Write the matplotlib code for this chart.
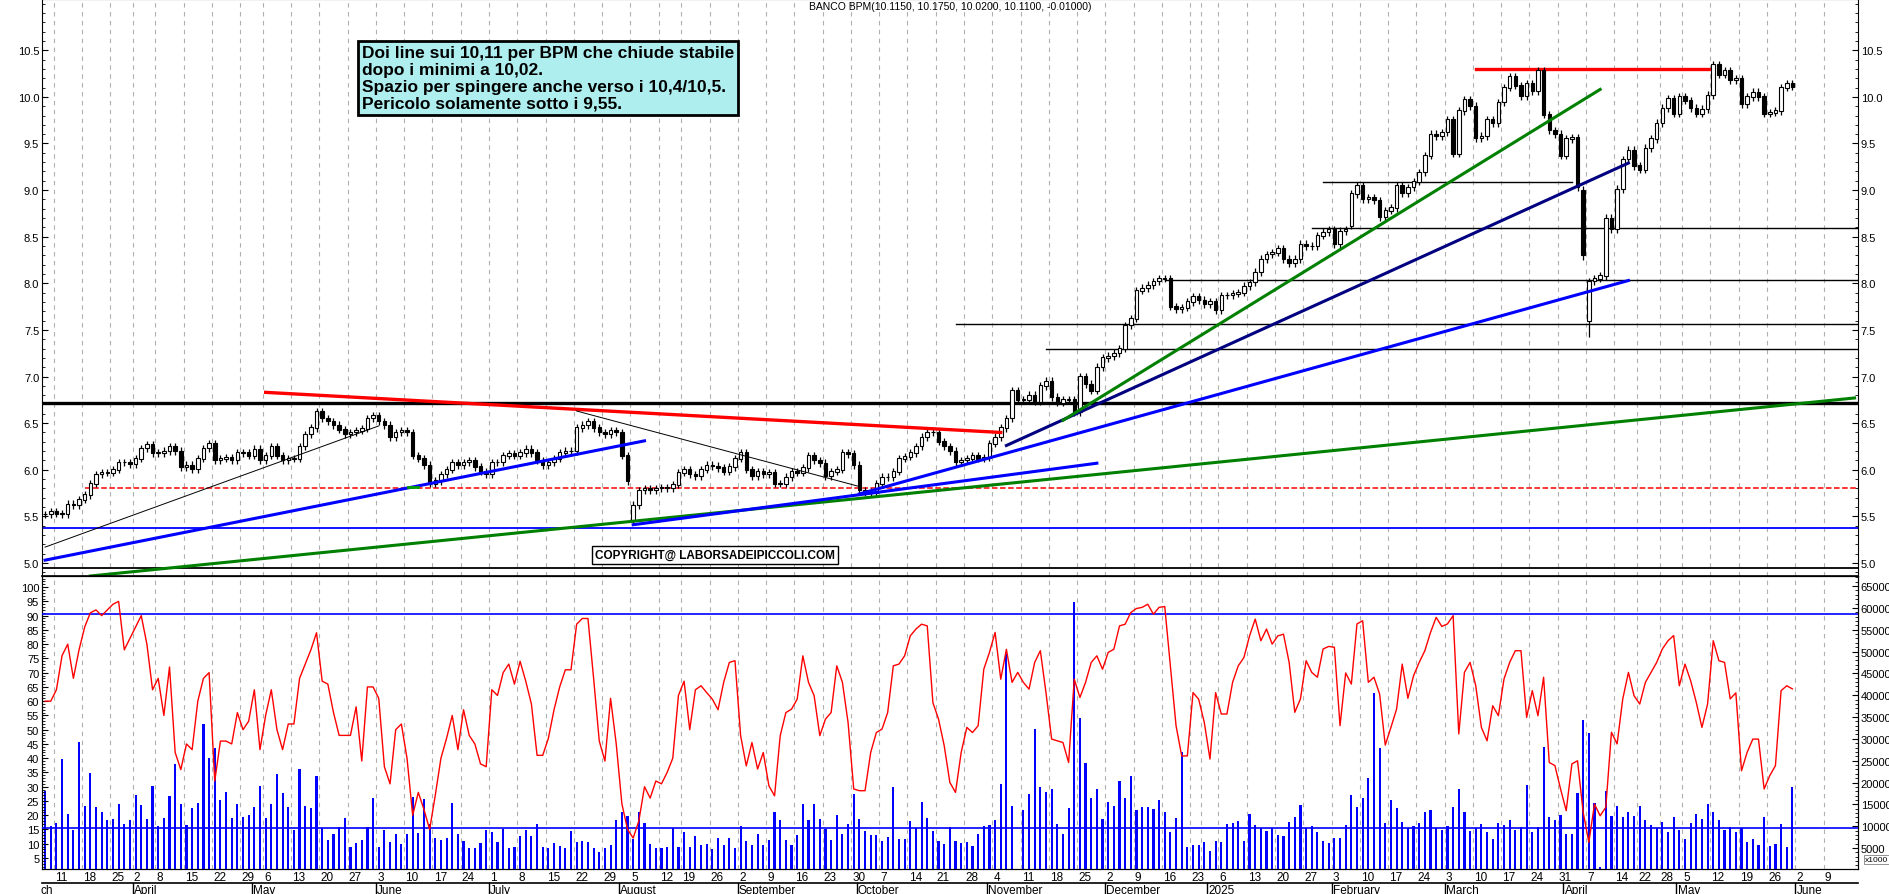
import matplotlib
matplotlib.use("Agg")
import matplotlib.pyplot as plt
from matplotlib.ticker import MultipleLocator, FixedLocator
import matplotlib.transforms as mtransforms
import numpy as np
import pandas as pd

plt.rcParams["font.family"] = "Liberation Sans"

TITLE = "BANCO BPM(10.1150, 10.1750, 10.0200, 10.1100, -0.01000)"
NOTE = ("Doi line sui 10,11 per BPM che chiude stabile\n"
        "dopo i minimi a 10,02.\n"
        "Spazio per spingere anche verso i 10,4/10,5.\n"
        "Pericolo solamente sotto i 9,55.")
COPYRIGHT = "COPYRIGHT@ LABORSADEIPICCOLI.COM"

HOLIDAYS = ["2024-03-29", "2024-04-01", "2024-05-01", "2024-08-15", "2024-12-24",
            "2024-12-25", "2024-12-26", "2024-12-31", "2025-01-01", "2025-04-18",
            "2025-04-21", "2025-05-01"]

# daily closes, 2024-03-07 .. 2025-05-30
CLOSE = [
    5.52, 5.55, 5.53, 5.52, 5.63, 5.62, 5.68, 5.73, 5.85, 5.95,
    5.97, 5.97, 6.00, 6.08, 6.08, 6.06, 6.12, 6.23, 6.27, 6.18,
    6.18, 6.20, 6.25, 6.20, 6.03, 6.05, 6.01, 6.12, 6.23, 6.28,
    6.10, 6.12, 6.13, 6.10, 6.18, 6.18, 6.15, 6.22, 6.10, 6.15,
    6.25, 6.15, 6.10, 6.12, 6.12, 6.25, 6.38, 6.45, 6.62, 6.55,
    6.52, 6.48, 6.43, 6.38, 6.40, 6.42, 6.44, 6.55, 6.58, 6.52,
    6.48, 6.35, 6.40, 6.42, 6.40, 6.15, 6.12, 6.05, 5.85, 5.88,
    5.95, 6.00, 6.08, 6.05, 6.08, 6.10, 6.03, 5.98, 5.95, 6.08,
    6.08, 6.15, 6.17, 6.15, 6.18, 6.22, 6.18, 6.10, 6.05, 6.08,
    6.12, 6.18, 6.20, 6.20, 6.45, 6.48, 6.52, 6.45, 6.40, 6.38,
    6.42, 6.40, 6.15, 5.88, 5.62,
    5.78, 5.80, 5.78, 5.80, 5.81, 5.80, 5.84, 5.97, 6.00, 5.95,
    5.93, 6.00, 6.05, 6.04, 6.02, 5.98, 6.03, 6.12, 6.18, 6.00,
    5.93, 5.98, 5.95, 5.97, 5.85, 5.85, 5.92, 5.98, 5.97, 6.02,
    6.15, 6.10, 6.07, 5.93, 5.98, 6.00, 6.18, 6.17, 6.05, 5.78,
    5.76, 5.75, 5.85, 5.92, 5.92, 5.98, 6.12, 6.14, 6.18, 6.25,
    6.35, 6.40, 6.40, 6.30, 6.25, 6.20, 6.08, 6.10, 6.12, 6.15,
    6.12, 6.13, 6.28, 6.35, 6.45, 6.55, 6.85, 6.75, 6.75, 6.80,
    6.73, 6.90, 6.95, 6.78, 6.72, 6.75, 6.75, 6.62, 7.00, 6.92,
    6.85, 7.10, 7.20, 7.22, 7.25, 7.30, 7.55, 7.62, 7.92, 7.95,
    7.98, 8.02, 8.05, 8.05,
    7.75, 7.72, 7.74, 7.80, 7.86, 7.82, 7.78,
    7.80, 7.71, 7.87, 7.87, 7.89, 7.90, 7.97, 8.01, 8.12, 8.26,
    8.31, 8.33, 8.37, 8.26, 8.22, 8.26, 8.42, 8.40, 8.40, 8.51,
    8.55, 8.58, 8.42, 8.56, 8.58, 8.96, 9.05, 8.90, 8.92, 8.89,
    8.71, 8.78, 8.81, 9.05, 8.97, 9.03, 9.09, 9.19, 9.37, 9.60,
    9.58, 9.62, 9.76, 9.39, 9.85, 9.97, 9.90, 9.56, 9.58, 9.76,
    9.72, 9.94, 10.10, 10.22, 10.12, 10.01, 10.14, 10.06, 10.28, 9.81,
    9.64, 9.60, 9.37, 9.55, 9.56, 9.03, 8.30, 8.02, 8.05, 8.08,
    8.70, 8.58, 9.01, 9.33, 9.43, 9.26, 9.22, 9.45, 9.55, 9.72,
    9.88, 9.98, 9.82, 10.00, 9.96, 9.88, 9.82, 9.87, 10.02, 10.35,
    10.24, 10.28, 10.18, 10.20, 9.92, 10.00, 10.05, 10.00, 9.82, 9.83,
    9.85, 10.10, 10.14, 10.11,
]
OPEN_OVERRIDE = {104: 5.45, 272: 9.00, 273: 7.60, 231: 8.62}
LOW_OVERRIDE = {104: 5.42, 273: 7.42, 272: 8.25}

RSI = [
    60, 60, 64, 76, 80, 68, 78, 86, 91, 92, 90, 92, 94, 95, 78, 82, 86, 90, 80, 64,
    68, 55, 72, 42, 36, 45, 43, 60, 68, 70, 32, 46, 46, 45, 56, 50, 53, 64, 43, 55,
    64, 50, 43, 52, 52, 68, 73, 78, 84, 67, 66, 56, 48, 48, 48, 58, 39, 65, 65, 61,
    37, 31, 50, 52, 40, 20, 28, 22, 15, 27, 40, 47, 55, 43, 57, 48, 45, 38, 37, 64,
    62, 70, 73, 66, 74, 67, 59, 41, 41, 47, 57, 65, 71, 71, 87, 89, 89, 68, 46, 39,
    61, 45, 24, 15, 12, 18, 30, 26, 32, 31, 35, 40, 62, 67, 50, 64,
    65.4, 63, 60.7, 57, 66.6, 73.6, 74.2, 47.9, 37.3, 45.5, 36.2, 42, 30.3, 26.8,
    47.9, 56, 57.2, 60.7, 75.9, 66.6, 61.9, 47.9, 53.7, 56, 72.4, 66.6, 52.5, 29.2,
    28.6, 28.6, 42, 49, 50.2, 56, 72.4, 73, 75.9, 82.9, 85.3, 87, 86.4, 59.5, 53.7,
    44.4, 31.5, 28, 42, 50.8, 49, 51.4, 71.2, 77.1, 84.1, 67.7, 78.2, 66.6, 70.1,
    66.6, 64.2, 73.6, 77.7, 63, 46.7, 46.1, 45.5, 38.5, 67.7, 61.3, 66.6, 73.6, 75.9,
    71.2, 77.1, 78.2, 86.4, 87, 91.1, 92.5, 92.9, 94, 90.5, 92.9, 93.2, 72.4, 51.4,
    40.8, 40.8, 63, 60.7, 52.5, 39.7, 63, 55.5, 55.5, 66.6, 72.4, 75.3, 82.9, 88.8,
    81.2, 85.3, 80, 82.9,
    83.5, 73.6, 56.1, 60.8, 74.2, 70.1, 68.4, 78.3, 79.2, 78.9,
    51.4, 69.9, 66, 87.1, 88.2, 66.6, 68.4, 62.5, 44.6, 50.8,
    57.2, 73, 61, 68.9, 73.6, 77.7, 84.1, 89.4, 86.2, 87.1,
    90, 48.5, 70.1, 73.6, 65.4, 50.8, 46.1, 58.4, 54.9, 67.8,
    73.6, 77.7, 77.7, 54.3, 63.7, 54.9, 68.4, 38.5, 37.4, 29.2,
    21.6, 38, 39.1, 21, 10.5, 23.9, 19.8, 22.8, 49.1, 45,
    60.8, 70.1, 61.9, 59, 66.6, 70.1, 73.6, 78.3, 81.2, 83,
    65.4, 73, 67.2, 59.6, 50.8, 59, 81.2, 74.2, 73.6,
    60.8, 62.9, 35.6, 42.1, 46.7, 46.7, 29.2, 33.9, 37.4, 63.7,
    65.4, 64.3,
]

# volume, thousands of shares
VOLUME = [
    18.1, 10.1, 10.7, 25.4, 12.8, 9.1, 29.2, 14.7, 22.2, 14.3, 13.3, 11.4, 11.6, 15, 10.4,
    11.3, 17.2, 14.8, 11.6, 19.3, 10.1, 11.9, 16.8, 24.2, 15, 10.3, 14.1, 15.3, 33.4, 25.6,
    27.8, 16.1, 17.9, 11.9, 15, 12, 12.6, 14.5, 19.1, 11.9, 15, 21.9, 17.6, 14.3, 9.1,
    23.2, 14.7, 14.1, 21.6, 9.5, 6.8, 8.2, 9.7, 11.9, 5.3, 6.1, 6.8, 9.7, 16.4, 5.3,
    9.1, 6.4, 8.2, 5.9, 8.2, 16.6, 8.4, 16.2, 10.5, 7.2, 6.9, 7.2, 15.4, 8.2, 6.7,
    5, 5, 6.1, 9.1, 8.6, 6.3, 9.3, 5, 5.2, 7.8, 9.1, 7.8, 10.5, 5.2, 5,
    6.1, 5.5, 5, 9, 6.4, 6.7, 6.3, 5, 4, 5, 5.7, 11.3, 13.2, 12.4, 7,
    13.2, 10.7, 5.9, 5, 5, 5.2, 9.5, 5.3, 8.7, 5.3, 7.8,
    5.6, 6, 4.8, 7.2, 5.6, 7.2, 5, 10, 6.7, 5.6, 8.2, 5.6, 6.9, 13.3, 11.3,
    6.9, 5.7, 8, 15.1, 11.3, 15.1, 11.7, 9.4, 6.9, 12.6, 8.2, 10.5, 17.4, 11.7, 9,
    7.9, 7.9, 6.7, 7.5, 18.9, 7.1, 7.1, 11.1, 9.5, 15.6, 11.8, 8.8, 6.7, 6, 9.8,
    6.7, 6.2, 6.3, 5.4, 8.2, 10, 10.3, 11.5, 19.7, 49.8, 14.6, 0.2, 13.8, 17.4, 32.3,
    18.9, 17.9, 18.5, 10.5, 8.2, 14.1, 61.4, 34.7, 24.5, 16.4, 18.4, 11.7, 15.6, 14.6, 20.4,
    16.4, 21.4, 13.8, 14.3, 14.3, 14, 15.9, 13.2, 8.6, 11.8, 26.9, 5.2, 5.7, 5.6, 6.3,
    4.2, 6.7, 6.3, 10.5, 10.8, 11.1, 6.5, 12.8, 10.3, 9.5, 8.8, 9.5, 7.9,
    7.8, 11, 12.2, 14.8, 9.5, 10, 8.7, 6.7, 6.1, 7.2,
    7.3, 10.3, 17.1, 14.5, 16.4, 21, 40.6, 27.8, 10.7, 16.1,
    14.1, 11, 9.5, 10.1, 10.7, 13.2, 13.8, 9.5, 9.2, 10.1,
    14.3, 18.4, 13.3, 9, 9.5, 10.5, 8.6, 7.1, 10.7, 10.3,
    11.3, 9.2, 9.7, 19.4, 8.6, 9.7, 28.2, 12.2, 11.3, 12.6,
    8.2, 8.2, 17.7, 34.3, 31.3, 15.3, 0.6, 18.1, 12.4, 14.7,
    12.2, 13.2, 12.4, 14.7, 11.3, 10.3, 9.5, 11, 8.6, 12.2,
    9.1, 7.1, 10.7, 12.8, 11.6, 15.1, 13.3, 11.5, 9.2, 9.7,
    8.6, 9.6, 6.4, 7.1, 5.7, 12.2, 5.5, 5.9, 10.6, 5.3, 19,
]

# trendlines: (start date, price, end date, price, colour, width)
TRENDLINES = [
    ("2024-03-07", 5.17, "2024-06-03", 6.47, "black", 0.7),
    ("2024-03-07", 5.03, "2024-08-07", 6.31, "#0000ff", 2.2),
    ("2024-03-19", 4.86, "2025-06-16", 6.77, "#008000", 2.2),
    ("2024-05-06", 6.83, "2024-11-05", 6.40, "#ff0000", 2.4),
    ("2024-07-22", 6.63, "2024-10-01", 5.82, "black", 0.7),
    ("2024-08-05", 5.41, "2024-11-28", 6.07, "#0000ff", 2.2),
    ("2024-10-01", 5.74, "2025-04-16", 8.03, "#0000ff", 2.2),
    ("2024-11-06", 6.26, "2025-04-16", 9.29, "#000080", 2.2),
    ("2024-11-20", 6.53, "2025-04-09", 10.08, "#008000", 2.2),
]
# horizontal levels: (start date or None, end date or None, price, colour, width, style)
LEVELS = [
    (None, None, 6.72, "black", 2.4, "-"),
    (None, None, 5.38, "#0000ff", 1.3, "-"),
    (None, None, 4.95, "black", 1.3, "-"),
    ("2024-03-18", None, 5.80, "#ff0000", 1.1, "--"),
    ("2024-10-24", None, 7.56, "black", 1.0, "-"),
    ("2024-11-15", None, 7.29, "black", 1.0, "-"),
    ("2024-12-16", None, 8.04, "black", 1.0, "-"),
    ("2025-01-28", None, 8.59, "black", 1.0, "-"),
    ("2025-01-30", "2025-04-02", 9.09, "black", 1.0, "-"),
    ("2025-03-10", "2025-05-12", 10.30, "#ff0000", 2.4, "-"),
]
RSI_LEVELS = [90.4, 15.5]

days = pd.bdate_range("2024-03-07", "2025-06-30")
days = days[~days.isin(pd.to_datetime(HOLIDAYS))]
n = len(CLOSE)
assert n == len(RSI) == len(VOLUME), (n, len(RSI), len(VOLUME))
idx = np.arange(n)
XMIN, XMAX = -0.55, 320.6


def xi(d):
    return days.get_loc(pd.Timestamp(d))


close = np.array(CLOSE)
opn = np.r_[close[0], close[:-1]]
for k, v in OPEN_OVERRIDE.items():
    opn[k] = v
top = np.maximum(opn, close)
bot = np.minimum(opn, close)
high = top + 0.04
low = bot - 0.04
for k, v in LOW_OVERRIDE.items():
    low[k] = v

W, H = 1890, 895
fig = plt.figure(figsize=(W / 100, H / 100), dpi=100)
L, R = 42 / W, 1858 / W
ax = fig.add_axes([L, 1 - 577 / H, R - L, 577 / H])
ax2 = fig.add_axes([L, 1 - 870 / H, R - L, 293 / H], sharex=ax)
axv = ax2.twinx()

# week grid
weeks = pd.Series(days, index=days).groupby(days.to_period("W")).first()
wk_idx = [xi(d) for d in weeks if xi(d) <= XMAX - 1]
for a in (ax, ax2):
    for w in wk_idx:
        a.axvline(w - 0.5, color="#b0b0b0", lw=0.8, ls=(0, (4, 4)), zorder=0)

# candles
up = close >= opn
ax.vlines(idx, low, high, color="black", lw=0.9, zorder=3)
ax.bar(idx[up], (top - bot)[up] + 0.005, bottom=bot[up], width=0.62,
       facecolor="white", edgecolor="black", lw=0.8, zorder=4)
ax.bar(idx[~up], (top - bot)[~up] + 0.005, bottom=bot[~up], width=0.62,
       facecolor="black", edgecolor="black", lw=0.8, zorder=4)

for d0, p0, d1, p1, c, lw in TRENDLINES:
    ax.plot([xi(d0), xi(d1)], [p0, p1], color=c, lw=lw, zorder=5)
for d0, d1, p, c, lw, ls in LEVELS:
    x0 = XMIN if d0 is None else xi(d0)
    x1 = XMAX if d1 is None else xi(d1)
    ax.plot([x0, x1], [p, p], color=c, lw=lw, ls=ls, zorder=2)
ax.plot([xi("2024-06-11") - 0.8, xi("2024-06-12")], [5.82, 5.82], color="#00a000", lw=2, zorder=6)

ax.set_xlim(XMIN, XMAX)
ax.set_ylim(4.86, 11.05)
ax.yaxis.set_major_locator(FixedLocator(np.arange(5.0, 10.51, 0.5)))
ax.yaxis.set_minor_locator(MultipleLocator(0.1))
ax.yaxis.set_major_formatter(plt.FuncFormatter(lambda v, p: f"{v:.1f}"))
ax.tick_params(axis="y", which="both", labelright=True, right=True, direction="in",
               labelsize=8, length=4, pad=2)
ax.tick_params(axis="y", which="minor", length=2)
ax.tick_params(axis="x", bottom=False, labelbottom=False)
ax.text(0.5, 0.997, TITLE, transform=ax.transAxes, ha="center", va="top", fontsize=7.5)
ax.text((595 - 42) / (1858 - 42), (577 - 556) / 577, COPYRIGHT, transform=ax.transAxes,
        ha="left", va="center", fontsize=8.5, fontweight="bold",
        bbox=dict(facecolor="white", edgecolor="black", lw=1, pad=2))
fig.text(362 / W, 1 - 46 / H, NOTE, ha="left", va="top", fontsize=12.5, fontweight="bold",
         linespacing=1.15, bbox=dict(facecolor="#aeeeee", edgecolor="black", lw=2, pad=3))

# lower panel
axv.bar(idx, VOLUME, width=0.38, color="#0000ff", zorder=2)
axv.set_ylim(0.19, 67.3)
ax2.set_ylim(1.14, 103.9)
ax2.set_zorder(axv.get_zorder() + 1)
ax2.patch.set_visible(False)
ax2.plot(idx, RSI, color="#ff0000", lw=1.0, zorder=4)
for v in RSI_LEVELS:
    ax2.axhline(v, color="#0000ff", lw=1.2, zorder=3)
ax2.yaxis.set_major_locator(FixedLocator(np.arange(5, 101, 5)))
ax2.yaxis.set_minor_locator(MultipleLocator(1))
ax2.tick_params(axis="y", which="both", direction="in", labelsize=8, pad=2, length=4)
ax2.tick_params(axis="y", which="minor", length=2)
axv.yaxis.set_major_locator(FixedLocator(np.arange(5, 66, 5)))
axv.yaxis.set_minor_locator(MultipleLocator(1))
axv.yaxis.set_major_formatter(plt.FuncFormatter(lambda v, p: f"{int(v * 1000)}"))
axv.tick_params(axis="y", which="both", direction="in", labelsize=8, pad=2, length=4)
axv.tick_params(axis="y", which="minor", length=2)
axv.text(1.004, 0.02, "x1000", transform=axv.transAxes, fontsize=6, ha="left", va="bottom",
         bbox=dict(facecolor="white", edgecolor="#808080", lw=0.6, pad=0.8))

ax2.set_xticks([w - 0.5 for w in wk_idx])
ax2.set_xticklabels([])
ax2.tick_params(axis="x", length=0)
axv.tick_params(axis="x", length=0)
trans = mtransforms.blended_transform_factory(ax2.transData, fig.transFigure)
prev = -10
for w in wk_idx:
    if w < 1 or w - prev < 3:
        continue
    prev = w
    fig.text(w - 0.3, 1 - 878 / H, str(days[w].day), transform=trans, fontsize=8.5,
             ha="left", va="center")
fig.add_artist(plt.Line2D([L, R], [1 - 884 / H] * 2, color="black", lw=1.2))
months = pd.Series(days, index=days).groupby(days.to_period("M")).first()
for d in months:
    m = xi(d)
    if m > XMAX:
        continue
    lab = "2025" if d.month == 1 else d.strftime("%B")
    if m == 0:
        lab, m = "ch", XMIN
    fig.text(m - 0.3, 1 - 891 / H, lab, transform=trans, fontsize=8.5, ha="left", va="center")
    if m > 0:
        fig.add_artist(plt.Line2D([m - 0.5, m - 0.5], [1 - 884 / H, 0], transform=trans,
                                  color="black", lw=1))

ax2.spines["top"].set_linewidth(1.2)
fig.savefig("out.png", dpi=100)
